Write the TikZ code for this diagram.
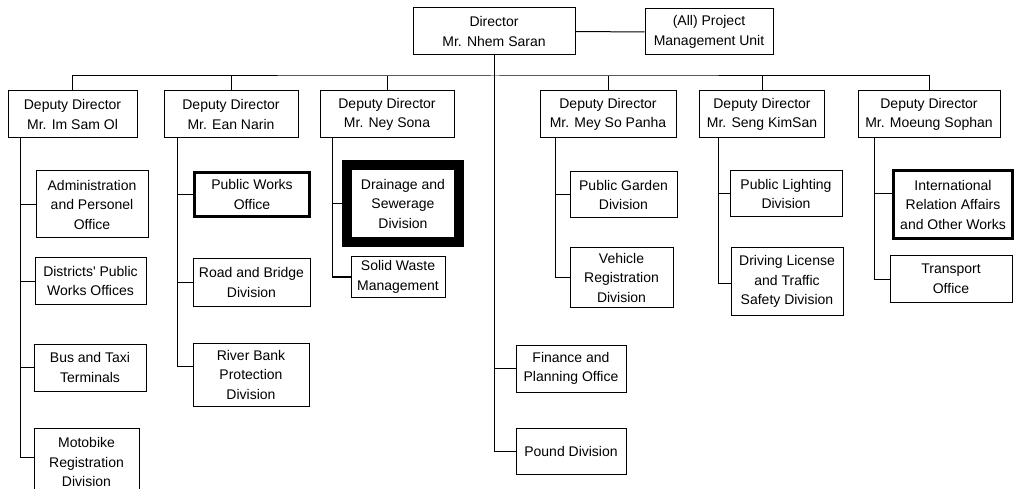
\documentclass[tikz,border=0pt]{standalone}
\usepackage{fontspec}
\setmainfont{Liberation Sans}
\begin{document}
\begin{tikzpicture}
[x=1pt, y=-1pt, line width=1pt,
 unit/.style={draw, align=center, inner sep=0pt, font=\fontsize{14}{19.5}\selectfont},
 heavy/.style={unit, line width=3pt}]
\useasboundingbox (0,0) rectangle (1015,489);
% top
\node [unit, minimum width=162pt, minimum height=47pt] (dir) at (494,31.5) {Director\\Mr. Nhem Saran};
\node [unit, minimum width=128pt, minimum height=46pt] (pmu) at (709,32) {(All) Project\\Management Unit};
\draw (dir.east) -- (pmu.west);
% deputies
\node [unit, minimum width=129pt, minimum height=47pt] (dep1) at (72.5,114.5) {Deputy Director\\Mr. Im Sam Ol};
\node [unit, minimum width=134pt, minimum height=47pt] (dep2) at (231,114.5) {Deputy Director\\Mr. Ean Narin};
\node [unit, minimum width=134pt, minimum height=47pt] (dep3) at (387,114.5) {Deputy Director\\Mr. Ney Sona};
\node [unit, minimum width=136pt, minimum height=47pt] (dep4) at (608,114.5) {Deputy Director\\Mr. Mey So Panha};
\node [unit, minimum width=125pt, minimum height=47pt] (dep5) at (762,114.5) {Deputy Director\\Mr. Seng KimSan};
\node [unit, minimum width=142pt, minimum height=47pt] (dep6) at (929,114.5) {Deputy Director\\Mr. Moeung Sophan};
\coordinate (bus) at (495,76);
\draw (dep1.north) |- (bus) -| (dep6.north);
\draw (dep2.north) -- (dep2.north |- bus);
\draw (dep3.north) -- (dep3.north |- bus);
\draw (dep4.north) -- (dep4.north |- bus);
\draw (dep5.north) -- (dep5.north |- bus);
% column 1
\node [unit, minimum width=112pt, minimum height=67pt] (adm) at (92,204.5) {Administration\\and Personel\\Office};
\node [unit, minimum width=111pt, minimum height=46pt] (dpw) at (90.5,281) {Districts\textquotesingle{} Public\\Works Offices};
\node [unit, minimum width=112pt, minimum height=47pt] (btt) at (90,367.5) {Bus and Taxi\\Terminals};
\node [unit, minimum width=105pt, minimum height=68pt] (mrd) at (86.5,462) {Motobike\\Registration\\Division};
\coordinate (s1) at ([xshift=13pt]dep1.south west);
\draw (s1) |- (adm.west);
\draw (s1) |- (dpw.west);
\draw (s1) |- (btt.west);
\draw (s1) |- ([yshift=5pt]mrd.west);
% column 2
\node [heavy, minimum width=115pt, minimum height=44pt] (pwo) at (252,194.5) {Public Works\\Office};
\node [unit, minimum width=117pt, minimum height=47pt] (rbd) at (251.5,282.5) {Road and Bridge\\Division};
\node [unit, minimum width=116pt, minimum height=63pt] (rbp) at (251,374.5) {River Bank\\Protection\\Division};
\coordinate (s2) at ([xshift=14pt]dep2.south west);
\draw (s2) |- (pwo.west);
\draw (s2) |- (rbd.west);
\draw (s2) |- ([yshift=8pt]rbp.west);
% column 3
\node [unit, line width=10pt, minimum width=112pt, minimum height=77pt] (dsd) at (403,203.5) {Drainage and\\Sewerage\\Division};
\node [unit, minimum width=94pt, minimum height=40pt] (swm) at (398,277) {Solid Waste\\Management};
\coordinate (s3) at ([xshift=13pt]dep3.south west);
\draw (s3) |- (dsd.west);
\draw (s3) |- (swm.west);
% director's own offices
\node [unit, minimum width=110pt, minimum height=47pt] (fpo) at (571,368.5) {Finance and\\Planning Office};
\node [unit, minimum width=110pt, minimum height=46pt] (pnd) at (571,451) {Pound Division};
\draw (dir.south) |- (fpo.west);
\draw (dir.south) |- (pnd.west);
% column 4
\node [unit, minimum width=107pt, minimum height=46pt] (pgd) at (623.5,195) {Public Garden\\Division};
\node [unit, minimum width=103pt, minimum height=59pt] (vrd) at (621.5,277.5) {Vehicle\\Registration\\Division};
\coordinate (s4) at ([xshift=16pt]dep4.south west);
\draw (s4) |- (pgd.west);
\draw (s4) |- (vrd.west);
% column 5
\node [unit, minimum width=112pt, minimum height=46pt] (pld) at (786,194) {Public Lighting\\Division};
\node [unit, minimum width=112pt, minimum height=67pt] (dlt) at (787,281.5) {Driving License\\and Traffic\\Safety Division};
\coordinate (s5) at ([xshift=19pt]dep5.south west);
\draw (s5) |- (pld.west);
\draw (s5) |- ([yshift=-1.5pt]dlt.west);
% column 6
\node [heavy, minimum width=119pt, minimum height=68pt] (ira) at (953,204.5) {International\\Relation Affairs\\and Other Works};
\node [unit, minimum width=122pt, minimum height=46pt] (tpo) at (951,279) {Transport\\Office};
\coordinate (s6) at ([xshift=17pt]dep6.south west);
\draw (s6) |- ([yshift=11pt]ira.west);
\draw (s6) |- (tpo.west);
\end{tikzpicture}
\end{document}
